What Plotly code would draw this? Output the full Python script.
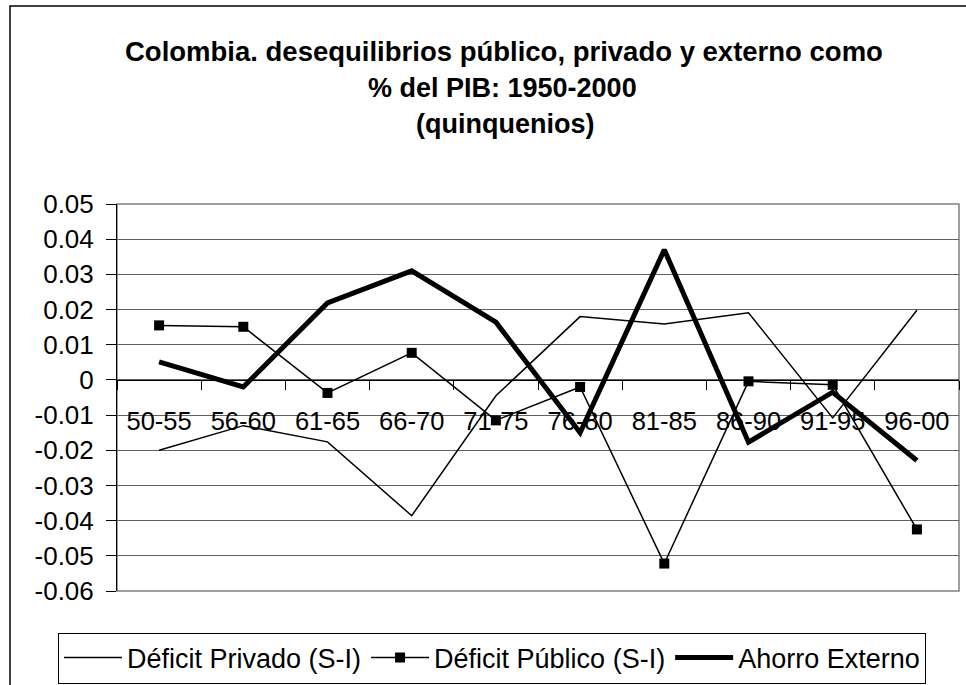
import plotly.graph_objects as go

categories = ["50-55", "56-60", "61-65", "66-70", "71-75", "76-80", "81-85", "86-90", "91-95", "96-00"]
deficit_privado = [-0.020, -0.013, -0.0176, -0.0386, -0.0045, 0.018, 0.0159, 0.0191, -0.0108, 0.0198]
deficit_publico = [0.0155, 0.0151, -0.0037, 0.0077, -0.0115, -0.0020, -0.0522, -0.0004, -0.0014, -0.0425]
ahorro_externo = [0.0051, -0.0020, 0.0219, 0.0310, 0.0164, -0.0150, 0.0370, -0.0177, -0.0035, -0.0229]
y_tickvals = [0.05, 0.04, 0.03, 0.02, 0.01, 0, -0.01, -0.02, -0.03, -0.04, -0.05, -0.06]
y_ticktext = ["0.05", "0.04", "0.03", "0.02", "0.01", "0", "-0.01", "-0.02", "-0.03", "-0.04", "-0.05", "-0.06"]
title_lines = ["Colombia. desequilibrios público, privado y externo como",
               "% del PIB: 1950-2000", "(quinquenios)"]

FONT = "Arial, Liberation Sans, sans-serif"
W, H = 966, 685
L, R, T, B = 117, 7, 204, 94
plot_h = H - T - B
plot_w = W - L - R

def py(px):
    return (H - B - px) / plot_h

def pxx(px):
    return (px - L) / plot_w

fig = go.Figure()
fig.add_trace(go.Scatter(x=categories, y=deficit_privado, mode="lines",
                         name="Déficit Privado (S-I)",
                         line=dict(color="black", width=1.5)))
fig.add_trace(go.Scatter(x=categories, y=deficit_publico, mode="lines+markers",
                         name="Déficit Público (S-I)",
                         line=dict(color="black", width=1.5),
                         marker=dict(symbol="square", size=10, color="black")))
fig.add_trace(go.Scatter(x=categories, y=ahorro_externo, mode="lines",
                         name="Ahorro Externo",
                         line=dict(color="black", width=5)))

title_specs = [(504, 63, 27.5), (502, 99, 27), (505, 135, 27)]
annotations = []
for t, (cx, base, fs) in zip(title_lines, title_specs):
    annotations.append(dict(text="<b>" + t + "</b>", xref="paper", yref="paper",
                            x=pxx(cx), y=py(base + 6), xanchor="center", yanchor="bottom",
                            showarrow=False, font=dict(family=FONT, size=fs, color="black")))

fig.update_layout(
    width=W, height=H,
    margin=dict(l=L, r=R, t=T, b=B, autoexpand=False),
    paper_bgcolor="white", plot_bgcolor="white",
    showlegend=True,
    legend=dict(orientation="h", x=pxx(58), y=py(658), xanchor="left", yanchor="middle",
                bordercolor="black", borderwidth=1, font=dict(family=FONT, size=27, color="black"),
                bgcolor="white", itemwidth=58, tracegroupgap=0),
    annotations=annotations,
    xaxis=dict(type="category", anchor="free", position=6 / 11,
               showline=True, linecolor="black", linewidth=1,
               ticks="outside", tickson="boundaries", ticklen=9, tickcolor="black",
               ticklabelstandoff=18,
               showgrid=False, tickfont=dict(family=FONT, size=25.5, color="black"),
               range=[-0.5, 9.5], fixedrange=True),
    yaxis=dict(range=[-0.06, 0.05], tickvals=y_tickvals, ticktext=y_ticktext,
               showline=True, linecolor="black", linewidth=1,
               ticks="outside", ticklen=10, tickcolor="black",
               showgrid=True, gridcolor="#606060", gridwidth=1, zeroline=False,
               ticklabelstandoff=7,
               tickfont=dict(family=FONT, size=26, color="black")),
    shapes=[
        dict(type="rect", xref="paper", yref="paper", x0=0, x1=1, y0=0, y1=1,
             line=dict(color="#808080", width=1.5), layer="below"),
        dict(type="rect", xref="paper", yref="paper", x0=pxx(10), x1=pxx(W + 20),
             y0=py(H + 20), y1=py(6), line=dict(color="black", width=1.5)),
    ],
)

fig.write_html("out.html", config={"displayModeBar": False},
               post_script="document.body.style.margin='0';")
